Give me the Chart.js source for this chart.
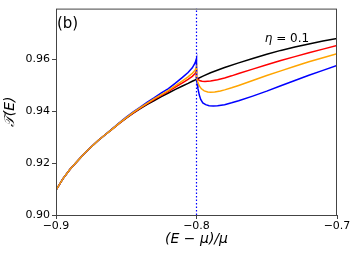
<!DOCTYPE html>
<html>
<head>
<meta charset="utf-8">
<script src="https://cdn.jsdelivr.net/npm/chart.js@4.4.1/dist/chart.umd.min.js"></script>
<style>
  html, body { margin: 0; padding: 0; background: #fff; }
  canvas { display: block; }
</style>
</head>
<body>
<canvas id="myChart" width="357" height="258"></canvas>
<script>
// x = (E - mu)/mu, left branch shared x grid
const xLeft = [-0.9, -0.895, -0.89, -0.885, -0.88, -0.875, -0.87, -0.865, -0.86, -0.855, -0.85,
  -0.845, -0.84, -0.835, -0.83, -0.825, -0.82, -0.815, -0.81, -0.806, -0.803, -0.801, -0.8];
const yLeftBlack = [0.9096, 0.9140, 0.9176, 0.9206, 0.9236, 0.9262, 0.9287, 0.9309, 0.9331, 0.9353, 0.9373,
  0.9392, 0.9410, 0.9426, 0.9441, 0.9456, 0.9470, 0.9484, 0.9497, 0.9507, 0.9515, 0.9520, 0.9523];
const yLeftRed = [0.9096, 0.9140, 0.9176, 0.9206, 0.9236, 0.9262, 0.9287, 0.9309, 0.9331, 0.9353, 0.9374,
  0.9393, 0.9412, 0.9429, 0.9445, 0.9461, 0.9476, 0.9493, 0.9509, 0.9522, 0.9534, 0.9545, 0.9554];
const yLeftOrange = [0.9096, 0.9140, 0.9176, 0.9206, 0.9236, 0.9262, 0.9287, 0.9309, 0.9331, 0.9354, 0.9375,
  0.9395, 0.9414, 0.9431, 0.9448, 0.9464, 0.9480, 0.9498, 0.9517, 0.9532, 0.9546, 0.9558, 0.9570];
const yLeftBlue = [0.9096, 0.9140, 0.9176, 0.9206, 0.9236, 0.9262, 0.9287, 0.9309, 0.9332, 0.9355, 0.9377,
  0.9397, 0.9416, 0.9435, 0.9452, 0.9470, 0.9487, 0.9508, 0.9530, 0.9549, 0.9567, 0.9586, 0.9603];

// right branches
const xRightBlack = [-0.795, -0.79, -0.78, -0.77, -0.76, -0.75, -0.74, -0.73, -0.72, -0.71, -0.70];
const yRightBlack = [0.9536, 0.9548, 0.9568, 0.9586, 0.9603, 0.9619, 0.9634, 0.9647, 0.9659, 0.9670, 0.9680];

const xRightRed = [-0.8, -0.799, -0.7975, -0.796, -0.794, -0.79, -0.785, -0.78, -0.775, -0.77,
  -0.76, -0.75, -0.74, -0.73, -0.72, -0.71, -0.70];
const yRightRed = [0.9530, 0.9522, 0.9517, 0.9515, 0.9514, 0.9516, 0.9521, 0.9528, 0.9536, 0.9545,
  0.9562, 0.9579, 0.9595, 0.9610, 0.9625, 0.9639, 0.9653];

const xRightOrange = [-0.8, -0.799, -0.798, -0.7965, -0.7945, -0.792, -0.79, -0.787, -0.783, -0.78,
  -0.775, -0.77, -0.76, -0.75, -0.74, -0.73, -0.72, -0.71, -0.70];
const yRightOrange = [0.9528, 0.9510, 0.9497, 0.9486, 0.9478, 0.9474, 0.9473, 0.9474, 0.9478, 0.9482,
  0.9490, 0.9499, 0.9518, 0.9537, 0.9555, 0.9573, 0.9590, 0.9606, 0.9621];

const xRightBlue = [-0.8, -0.7995, -0.799, -0.798, -0.797, -0.7955, -0.7935, -0.791, -0.788, -0.785,
  -0.78, -0.775, -0.77, -0.76, -0.75, -0.74, -0.73, -0.72, -0.71, -0.70];
const yRightBlue = [0.9525, 0.9505, 0.9488, 0.9462, 0.9445, 0.9432, 0.9425, 0.9421, 0.9420, 0.9421,
  0.9425, 0.9432, 0.9440, 0.9458, 0.9477, 0.9498, 0.9518, 0.9538, 0.9557, 0.9576];

const vlineX = [-0.8, -0.8];
const vlineY = [0.90, 0.98];

const xTicks = [-0.9, -0.8, -0.7];
const yTicks = [0.90, 0.92, 0.94, 0.96];

const panelLabel = "(b)";
const etaSymbol = "η";
const etaValue = " = 0.1";
const etaPos = { x: -0.7356, y: 0.9677 };

function pts(xs, ys) {
  return xs.map((x, i) => ({ x: x, y: ys[i] }));
}

function curve(xs, ys, color) {
  return {
    data: pts(xs, ys),
    showLine: true,
    borderColor: color,
    backgroundColor: color,
    borderWidth: 1.5,
    pointRadius: 0,
    tension: 0,
    fill: false,
  };
}

const fuente = "'DejaVu Sans', sans-serif";

const textos = {
  id: "textos",
  afterDraw(chart) {
    const { ctx, chartArea, scales } = chart;
    ctx.save();
    // marco
    ctx.strokeStyle = "#444";
    ctx.lineWidth = 1;
    ctx.strokeRect(chartArea.left + 0.5, chartArea.top + 0.5,
      chartArea.right - chartArea.left - 1, chartArea.bottom - chartArea.top);
    ctx.fillStyle = "#000";
    ctx.font = "15px " + fuente;
    ctx.textAlign = "left";
    ctx.textBaseline = "alphabetic";
    ctx.fillText(panelLabel, chartArea.left + 1, chartArea.top + 19);

    // eta label: italic symbol + upright value
    ctx.textBaseline = "middle";
    const italica = "italic 12px " + fuente;
    const normal = "12px " + fuente;
    ctx.font = italica;
    const w1 = ctx.measureText(etaSymbol).width;
    ctx.font = normal;
    const w2 = ctx.measureText(etaValue).width;
    const cx = scales.x.getPixelForValue(etaPos.x);
    const cy = scales.y.getPixelForValue(etaPos.y);
    const x0 = cx - (w1 + w2) / 2;
    ctx.font = italica;
    ctx.fillText(etaSymbol, x0, cy);
    ctx.font = normal;
    ctx.fillText(etaValue, x0 + w1, cy);
    ctx.restore();
  },
};

new Chart(document.querySelector("#myChart").getContext("2d"), {
  type: "scatter",
  data: {
    datasets: [
      {
        data: pts(vlineX, vlineY),
        showLine: true,
        borderColor: "blue",
        borderWidth: 1.2,
        borderDash: [1.5, 2],
        pointRadius: 0,
      },
      curve(xLeft.concat(xRightOrange), yLeftOrange.concat(yRightOrange), "orange"),
      curve(xLeft.concat(xRightBlue), yLeftBlue.concat(yRightBlue), "blue"),
      curve(xLeft.concat(xRightRed), yLeftRed.concat(yRightRed), "red"),
      curve(xLeft.concat(xRightBlack), yLeftBlack.concat(yRightBlack), "black"),
    ],
  },
  options: {
    responsive: false,
    animation: false,
    devicePixelRatio: 1,
    layout: { padding: { left: 0, right: 20, top: 5, bottom: 0 } },
    plugins: { legend: { display: false }, tooltip: { enabled: false } },
    scales: {
      x: {
        type: "linear",
        min: -0.9,
        max: -0.7,
        afterBuildTicks: (s) => { s.ticks = xTicks.map((v) => ({ value: v })); },
        afterFit: (s) => { s.height = 43; },
        grid: { display: true, drawOnChartArea: false, drawTicks: true, tickLength: 4, tickColor: "#444" },
        border: { display: false },
        ticks: {
          color: "#000",
          font: { family: fuente, size: 11 },
          padding: 1,
          maxRotation: 0,
          callback: (v) => v.toFixed(1).replace("-", "\u2212"),
        },
        title: {
          display: true,
          text: "(E \u2212 μ)/μ",
          color: "#000",
          font: { family: fuente, size: 14, style: "italic" },
          padding: { top: 0, bottom: 10 },
        },
      },
      y: {
        type: "linear",
        min: 0.9,
        max: 0.9795,
        afterBuildTicks: (s) => { s.ticks = yTicks.map((v) => ({ value: v })); },
        afterFit: (s) => { s.width = 56; },
        grid: { display: true, drawOnChartArea: false, drawTicks: true, tickLength: 4, tickColor: "#444" },
        border: { display: false },
        ticks: {
          color: "#000",
          font: { family: fuente, size: 11 },
          padding: 2,
          callback: (v) => v.toFixed(2),
        },
        title: {
          display: true,
          text: "𝒯(E)",
          color: "#000",
          font: { family: fuente, size: 14, style: "italic" },
          padding: { top: 2, bottom: 0 },
        },
      },
    },
  },
  plugins: [textos],
});
</script>
</body>
</html>
